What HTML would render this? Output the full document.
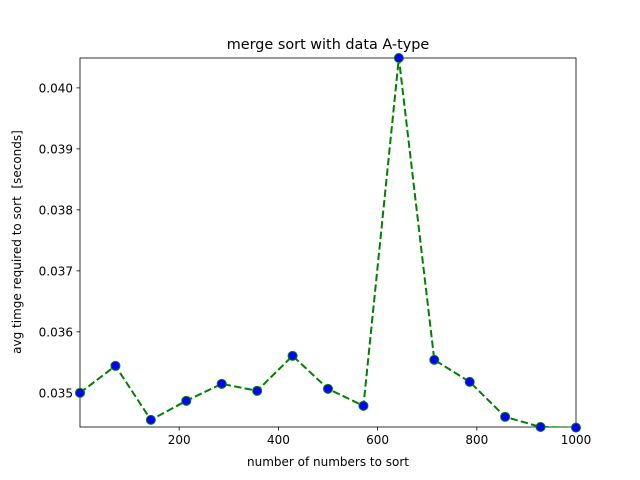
<!DOCTYPE html>
<html><head><meta charset="utf-8"><style>
html,body{margin:0;padding:0;background:#fff;}
svg{display:block;font-family:"DejaVu Sans","Liberation Sans",sans-serif;}
</style></head><body>
<svg id="chart" width="640" height="480" viewBox="0 0 640 480"></svg>
<script>
const xValues = [0, 71.43, 142.86, 214.29, 285.71, 357.14, 428.57, 500, 571.43, 642.86, 714.29, 785.71, 857.14, 928.57, 1000];
const yValues = [0.03500, 0.035443, 0.034557, 0.034869, 0.035148, 0.035033, 0.035607, 0.035066, 0.034787, 0.04049, 0.035541, 0.035180, 0.034607, 0.03444, 0.03443];
const xTicks = [200, 400, 600, 800, 1000];
const yTicks = [0.035, 0.036, 0.037, 0.038, 0.039, 0.040];
const yTickLabels = ["0.035", "0.036", "0.037", "0.038", "0.039", "0.040"];

const L=80,R=576,T=58,B=427;
const xMin=0,xMax=1000,yMin=0.03444,yMax=0.04049;
const sx=v=>L+(v-xMin)/(xMax-xMin)*(R-L);
const sy=v=>B-(v-yMin)/(yMax-yMin)*(B-T);
const svg=document.getElementById('chart');
const NS='http://www.w3.org/2000/svg';
function mk(tag,attrs,parent){const e=document.createElementNS(NS,tag);for(const k in attrs)e.setAttribute(k,attrs[k]);(parent||svg).appendChild(e);return e;}

const title=mk('text',{x:328,y:49,'text-anchor':'middle','font-size':14.4,fill:'#000'});
title.textContent='merge sort with data A-type';



const frame=mk('rect',{x:L,y:T,width:R-L,height:B-T,fill:'none',stroke:'#000','stroke-width':0.8});



xTicks.forEach(t=>{
  const x=sx(t);
  const tk=mk('line',{x1:x,y1:B,x2:x,y2:B+3.5,stroke:'#000','stroke-width':0.8});
  
  
  const lb=mk('text',{x:x,y:B+17,'text-anchor':'middle','font-size':12,fill:'#000'});
  lb.textContent=String(t);
  
  
});
yTicks.forEach((t,i)=>{
  const y=sy(t);
  const tk=mk('line',{x1:L-3.5,y1:y,x2:L,y2:y,stroke:'#000','stroke-width':0.8});
  
  
  const lb=mk('text',{x:L-7,y:y+4.5,'text-anchor':'end','font-size':12,fill:'#000'});
  lb.textContent=yTickLabels[i];
  
  
});

const xt=mk('text',{x:328,y:466,'text-anchor':'middle','font-size':12,fill:'#000'});
xt.textContent='number of numbers to sort';


const yt=mk('text',{x:0,y:0,'text-anchor':'middle','font-size':12,fill:'#000',transform:'translate(21,242) rotate(-90)',style:'white-space:pre'});
yt.textContent='avg timge required to sort  [seconds]';



const clip=mk('clipPath',{id:'c'});
mk('rect',{x:L,y:T,width:R-L,height:B-T},clip);
const g=mk('g',{'clip-path':'url(#c)'});


const pts=xValues.map((x,i)=>sx(x).toFixed(2)+','+sy(yValues[i]).toFixed(2)).join(' ');
const line=mk('polyline',{points:pts,fill:'none',stroke:'#008000','stroke-width':2,'stroke-dasharray':'7.4,3.2'},g);


const g2=mk('g',{});
xValues.forEach((x,i)=>{
  const c=mk('circle',{cx:sx(x),cy:sy(yValues[i]),r:4.5,fill:'#0000ff',stroke:'#008000','stroke-width':1},g2);
  
  
});
</script>
</body></html>
